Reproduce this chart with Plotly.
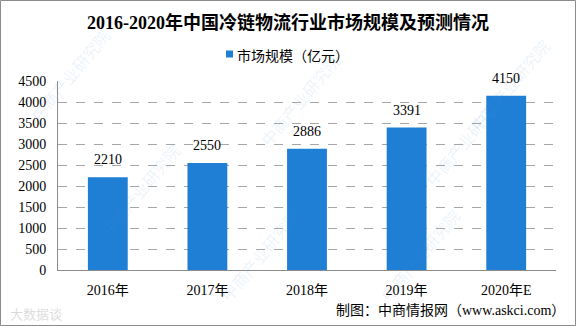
import plotly.graph_objects as go

# Cold-chain logistics market size, 2016-2020 (2020 is a forecast)
categories = ["2016年", "2017年", "2018年", "2019年", "2020年E"]
market_size = [2210, 2550, 2886, 3391, 4150]
y_ticks = [0, 500, 1000, 1500, 2000, 2500, 3000, 3500, 4000, 4500]
series_name = "市场规模（亿元）"

W, H = 576, 326
ML, MR, MT, MB = 58, 20, 81, 56
PW, PH = W - ML - MR, H - MT - MB

def px_x(x):
    return (x - ML) / PW

def px_y(y):
    return (H - MB - y) / PH

FONT = "Liberation Serif, 'Noto Sans CJK SC', serif"
CJK = "'Noto Sans CJK SC', 'Liberation Serif', sans-serif"
BLUE = "#1E7FD5"

fig = go.Figure()
fig.add_trace(go.Bar(
    x=categories,
    y=market_size,
    name=series_name,
    marker=dict(color=BLUE, line=dict(width=0)),
    showlegend=False,
))

# value labels sitting above each bar
value_labels = [
    dict(x=c, y=v, xref="x", yref="y", text=str(v), showarrow=False,
         yanchor="bottom", yshift=8,
         font=dict(family=FONT, size=14, color="#000000"))
    for c, v in zip(categories, market_size)
]

# faint diagonal watermarks
wm = []
for (cx, cy) in [(70, 75), (140, 190), (300, 100), (260, 255), (465, 140), (420, 255), (510, 85)]:
    wm.append(dict(
        x=px_x(cx), y=px_y(cy), xref="paper", yref="paper",
        text="中商产业研究院", showarrow=False, textangle=-50,
        font=dict(family=CJK, size=16, color="rgba(90,150,215,0.13)"),
        xanchor="center", yanchor="middle",
    ))

annotations = wm + value_labels + [
    dict(x=px_x(288), y=px_y(22), xref="paper", yref="paper",
         text="<b>2016-2020年中国冷链物流行业市场规模及预测情况</b>",
         showarrow=False, xanchor="center", yanchor="middle",
         font=dict(family=FONT, size=18, color="#000000")),
    dict(x=px_x(235), y=px_y(54.5), xref="paper", yref="paper",
         text=series_name, showarrow=False, xanchor="left", yanchor="middle",
         font=dict(family=CJK, size=14, color="#000000")),
    dict(x=px_x(567), y=px_y(310), xref="paper", yref="paper",
         text="制图：中商情报网（www.askci.com）",
         showarrow=False, xanchor="right", yanchor="middle",
         font=dict(family=FONT, size=14, color="#000000")),
    dict(x=px_x(8), y=px_y(313), xref="paper", yref="paper",
         text="大数据谈",
         showarrow=False, xanchor="left", yanchor="middle",
         font=dict(family=CJK, size=13, color="rgba(150,150,150,0.35)")),
]

fig.update_layout(
    width=W, height=H,
    margin=dict(l=ML, r=MR, t=MT, b=MB, pad=0),
    paper_bgcolor="#FFFFFF", plot_bgcolor="#FFFFFF",
    bargap=0.6,
    showlegend=False,
    annotations=annotations,
    shapes=[
        # outer frame
        dict(type="rect", xref="paper", yref="paper",
             x0=px_x(0.5), x1=px_x(W - 0.5), y0=px_y(H - 0.5), y1=px_y(0.5),
             line=dict(color="#8C8C8C", width=1), fillcolor="rgba(0,0,0,0)", layer="above"),
        # legend swatch
        dict(type="rect", xref="paper", yref="paper",
             x0=px_x(226), x1=px_x(233), y0=px_y(57.5), y1=px_y(50.5),
             line=dict(width=0), fillcolor=BLUE),
    ],
    xaxis=dict(
        showline=True, linecolor="#8C8C8C", linewidth=1,
        ticks="", showgrid=False,
        tickfont=dict(family=FONT, size=14, color="#000000"),
        ticklabelstandoff=7,
    ),
    yaxis=dict(
        range=[0, 4500], tickvals=y_ticks,
        showline=True, linecolor="#8C8C8C", linewidth=1,
        showgrid=True, gridcolor="#A6A6A6", griddash="dash", gridwidth=1,
        zeroline=False, ticks="",
        tickfont=dict(family=FONT, size=14, color="#000000"),
        ticklabelstandoff=8,
    ),
)

fig.write_html("out.html")
